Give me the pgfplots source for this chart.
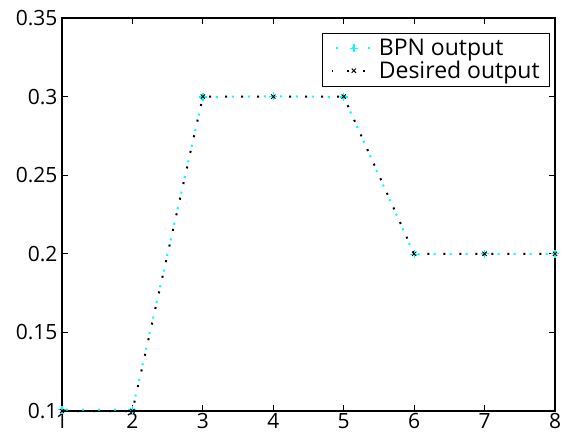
\documentclass[border=0pt]{standalone}
\usepackage{pgfplots}
\pgfplotsset{compat=1.18}
\usepackage{fontspec}
\setmainfont{Open Sans}
\definecolor{cy}{rgb}{0,1,1}
\begin{document}
\begin{tikzpicture}
\begin{axis}[
  name=ax,
  scale only axis,
  width=493pt, height=393pt,
  xmin=1, xmax=8, ymin=0.1, ymax=0.35,
  xtick={1,...,8},
  ytick={0.1,0.15,0.2,0.25,0.3,0.35},
  yticklabels={0.1,0.15,0.2,0.25,0.3,0.35},
  tick align=inside,
  tick pos=both,
  major tick length=6pt,
  axis line style={line width=1.2pt},
  tick style={black, line width=0.8pt},
  /pgf/number format/assume math mode=true,
  ticklabel style={font=\fontsize{21}{23}\selectfont},
  yticklabel style={xshift=-1pt},
  xticklabel style={yshift=1pt},
  legend style={at={(0.990,0.962)}, anchor=north east, draw=black, line width=0.8pt,
    font=\fontsize{23}{25}\selectfont, inner xsep=8pt, inner ysep=4pt,
    /tikz/every even column/.append style={column sep=6pt}},
  legend cell align=left,
  legend image code/.code={
    \draw[mark repeat=2,mark phase=2] plot coordinates {(0pt,0pt) (22pt,0pt) (44pt,0pt)};
  },
  clip=false,
]
\addplot[cy, line width=2pt, dash pattern=on 2pt off 14pt, dash phase=-4pt, mark=+, mark size=4pt,
  mark options={solid, line width=1.3pt}]
  coordinates {(1,0.1008) (2,0.1008) (3,0.2998) (4,0.3002) (5,0.2998) (6,0.1996) (7,0.2) (8,0.2)};
\addlegendentry{BPN output}
\addplot[black, line width=2pt, dash pattern=on 2pt off 14pt, dash phase=1pt, mark=x, mark size=3pt,
  mark options={solid, line width=0.9pt}]
  coordinates {(1,0.1) (2,0.1) (3,0.3) (4,0.3) (5,0.3) (6,0.2) (7,0.2) (8,0.2)};
\addlegendentry{Desired output}
\end{axis}
\pgfresetboundingbox
\path[use as bounding box] ([xshift=-62pt,yshift=-34pt]ax.south west) rectangle ([xshift=11pt,yshift=18pt]ax.north east);
\end{tikzpicture}
\end{document}
